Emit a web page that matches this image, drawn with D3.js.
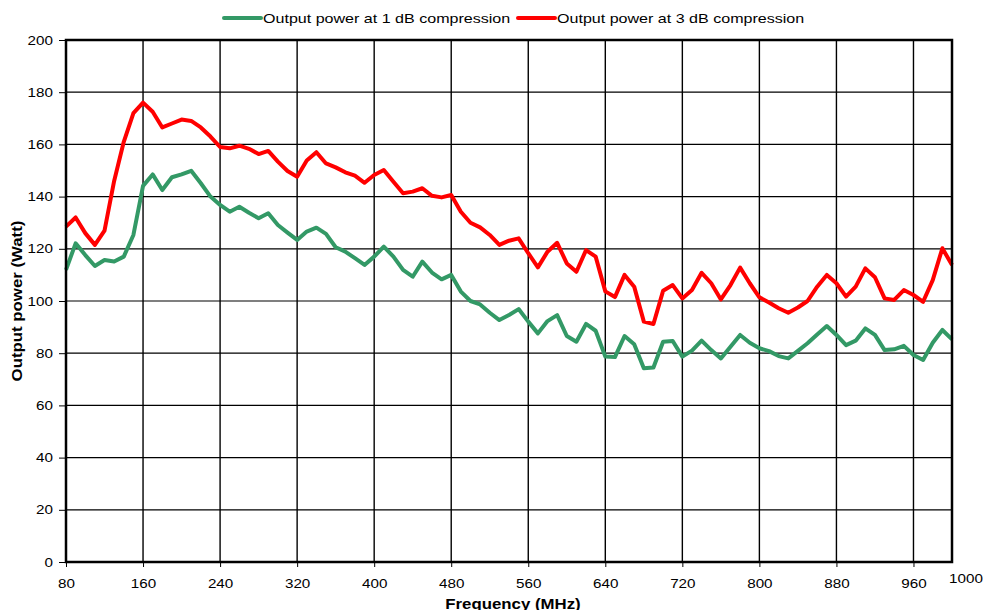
<!DOCTYPE html>
<html lang="en">
<head>
    <meta charset="UTF-8">
    <title>Output power vs frequency</title>
    <script src="https://d3js.org/d3.v7.min.js"></script>
    <style>
        body {
            margin: 0;
            background: #fff;
            font-family: "Liberation Sans", Arial, sans-serif;
        }
        .tick text {
            font-size: 13px;
            fill: #000;
        }
        .grid line {
            stroke: #000;
        }
    </style>
</head>
<body>
    <svg id="chart" width="983" height="610"></svg>
    <script>
        // frequency in MHz, 10 MHz steps
        const freqs = [80, 90, 100, 110, 120, 130, 140, 150, 160, 170, 180, 190, 200, 210, 220, 230, 240, 250, 260, 270,
            280, 290, 300, 310, 320, 330, 340, 350, 360, 370, 380, 390, 400, 410, 420, 430, 440, 450, 460, 470,
            480, 490, 500, 510, 520, 530, 540, 550, 560, 570, 580, 590, 600, 610, 620, 630, 640, 650, 660, 670,
            680, 690, 700, 710, 720, 730, 740, 750, 760, 770, 780, 790, 800, 810, 820, 830, 840, 850, 860, 870,
            880, 890, 900, 910, 920, 930, 940, 950, 960, 970, 980, 990, 1000];

        const p1dB = [111.9, 122.1, 117.6, 113.4, 115.7, 115.1, 117, 125.3, 144.1, 148.5, 142.5, 147.4, 148.5, 149.9, 145.1, 140, 136.8, 134.2, 136.1, 133.8,
            131.7, 133.6, 129.1, 126.2, 123.4, 126.6, 128.1, 125.7, 120.6, 118.9, 116.4, 113.8, 117, 120.8, 117, 111.9, 109.3, 115.1, 110.9, 108.3,
            110, 103.6, 100, 98.7, 95.5, 92.7, 94.6, 96.9, 92.1, 87.6, 92.3, 94.6, 86.6, 84.4, 91.2, 88.6, 78.7, 78.5, 86.6, 83.4,
            74.2, 74.5, 84.4, 84.7, 78.7, 81, 84.8, 81.2, 78, 82.5, 87, 84, 81.9, 80.8, 78.9, 78, 80.9, 83.8, 87.2, 90.4,
            87, 83.1, 84.8, 89.5, 87, 81.2, 81.5, 82.8, 79.3, 77.4, 84, 88.9, 85.3];

        const p3dB = [128.5, 132, 126, 121.5, 127, 146, 161, 172, 176, 172.5, 166.5, 168, 169.5, 169, 166.5, 163, 159, 158.5, 159.5, 158.3,
            156.3, 157.5, 153.4, 149.8, 147.6, 153.8, 157, 152.7, 151.2, 149.3, 148, 145.3, 148.3, 150.2, 145.7, 141.3, 141.9, 143.2, 140.3, 139.7,
            140.6, 134.2, 130, 128.2, 125.3, 121.5, 123.1, 124, 118.3, 112.9, 118.9, 122.3, 114.4, 111.2, 119.5, 117, 103.7, 101.5, 110, 105.5,
            92.1, 91.2, 103.9, 106.1, 101, 104.2, 110.8, 106.8, 100.6, 106.1, 112.8, 106.8, 101.4, 99.4, 97.2, 95.5, 97.5, 100, 105.5, 110,
            106.8, 101.7, 105.5, 112.5, 109.1, 101, 100.4, 104.2, 102.3, 99.7, 108, 120.2, 113.8];

        const xTicks = [80, 160, 240, 320, 400, 480, 560, 640, 720, 800, 880, 960];
        const yTicks = [0, 20, 40, 60, 80, 100, 120, 140, 160, 180, 200];

        const seriesNames = ["Output power at 1 dB compression", "Output power at 3 dB compression"];
        const seriesColors = ["#339966", "#ff0000"];

        const svg = d3.select("#chart");
        const margin = { left: 66, right: 31, top: 40, bottom: 48 };
        const W = 983, H = 610;

        const x = d3.scaleLinear().domain([80, 1000]).range([margin.left, W - margin.right]);
        const y = d3.scaleLinear().domain([0, 200]).range([H - margin.bottom, margin.top]);

        // the original text is a little wider than Liberation Sans, so stretch it
        function stretch(sel, k) {
            sel.each(function () {
                const len = this.getComputedTextLength();
                d3.select(this)
                    .attr("textLength", len * k)
                    .attr("lengthAdjust", "spacingAndGlyphs");
            });
        }

        // horizontal grid
        svg.append("g")
            .attr("class", "grid")
            .selectAll("line")
            .data(yTicks)
            .join("line")
            .attr("x1", x(80)).attr("x2", x(1000))
            .attr("y1", d => y(d)).attr("y2", d => y(d))
            .attr("stroke", "#222")
            .attr("stroke-width", 1.2);

        // vertical grid
        svg.append("g")
            .attr("class", "grid")
            .selectAll("line")
            .data(xTicks)
            .join("line")
            .attr("x1", d => x(d)).attr("x2", d => x(d))
            .attr("y1", y(0)).attr("y2", y(200))
            .attr("stroke-width", 1.4);

        // axes
        const yAxis = svg.append("g")
            .attr("transform", `translate(${x(80)},0)`)
            .call(d3.axisLeft(y).tickValues(yTicks).tickSize(7).tickPadding(6));
        yAxis.select(".domain").remove();
        yAxis.selectAll(".tick line").attr("stroke", "#000");
        stretch(yAxis.selectAll(".tick text"), 1.17);

        const xAxis = svg.append("g")
            .attr("transform", `translate(0,${y(0)})`)
            .call(d3.axisBottom(x).tickValues(xTicks).tickSize(5).tickPadding(12));
        xAxis.select(".domain").remove();
        xAxis.selectAll(".tick line").attr("stroke", "#000");
        stretch(xAxis.selectAll(".tick text"), 1.17);

        // the end label sits a bit higher and to the right, like the original
        const endLabel = svg.append("text")
            .attr("x", x(1000) + 14)
            .attr("y", y(0) + 21)
            .attr("text-anchor", "middle")
            .style("font-size", "13px")
            .text("1000");
        stretch(endLabel, 1.17);

        // series lines
        const line = d3.line()
            .x((d, i) => x(freqs[i]))
            .y(d => y(d));

        [p1dB, p3dB].forEach((vals, k) => {
            svg.append("path")
                .datum(vals)
                .attr("fill", "none")
                .attr("stroke", seriesColors[k])
                .attr("stroke-width", 4)
                .attr("stroke-linejoin", "round")
                .attr("d", line);
        });

        // plot border
        svg.append("rect")
            .attr("x", x(80)).attr("y", y(200))
            .attr("width", x(1000) - x(80))
            .attr("height", y(0) - y(200))
            .attr("fill", "none")
            .attr("stroke", "#000")
            .attr("stroke-width", 2.5);

        // axis titles
        const yTitle = svg.append("text")
            .attr("transform", `translate(22,${(y(0) + y(200)) / 2}) rotate(-90)`)
            .attr("text-anchor", "middle")
            .style("font-size", "14px")
            .style("font-weight", "bold")
            .text("Output power (Watt)");
        stretch(yTitle, 1.2);

        const xTitle = svg.append("text")
            .attr("x", (x(80) + x(1000)) / 2 + 4)
            .attr("y", 609)
            .attr("text-anchor", "middle")
            .style("font-size", "14px")
            .style("font-weight", "bold")
            .text("Frequency  (MHz)");
        stretch(xTitle, 1.2);

        // legend
        const legendX = [224, 518];
        seriesNames.forEach((name, k) => {
            const g = svg.append("g").attr("transform", `translate(${legendX[k]},18)`);
            g.append("line")
                .attr("x1", 0).attr("x2", 37)
                .attr("stroke", seriesColors[k])
                .attr("stroke-width", 4)
                .attr("stroke-linecap", "round");
            const t = g.append("text")
                .attr("x", 39)
                .attr("dy", "0.35em")
                .style("font-size", "13px")
                .text(name);
            stretch(t, 1.235);
        });
    </script>
</body>
</html>
